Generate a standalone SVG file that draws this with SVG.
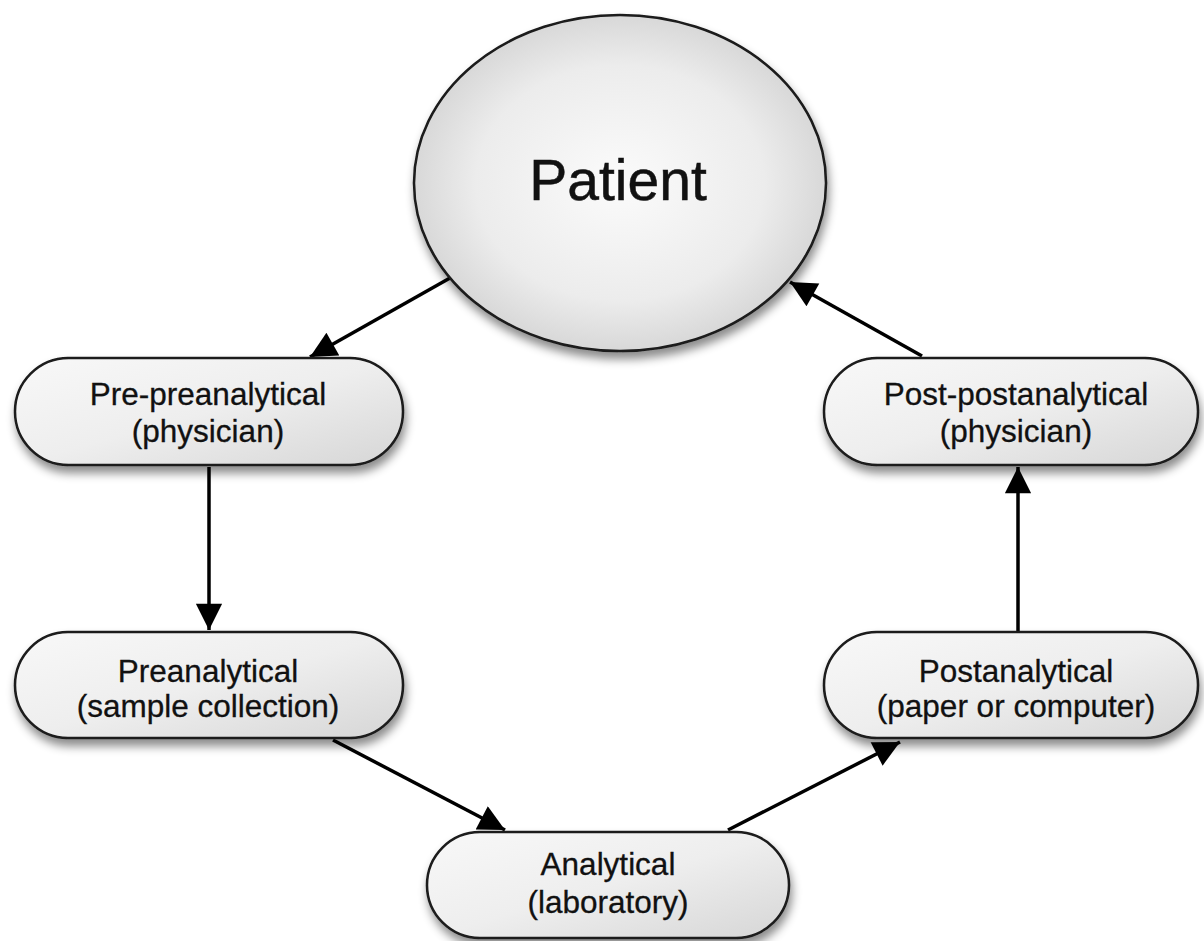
<svg xmlns="http://www.w3.org/2000/svg" width="1204" height="941" viewBox="0 0 1204 941">
<style>
.box{fill:url(#boxg);stroke:#1a1a1a;stroke-width:2.5;filter:url(#sh)}
.lbl{font-family:"Liberation Sans",Arial,sans-serif;font-size:31.5px;fill:#111;stroke:#111;stroke-width:0.3;text-anchor:middle}
.big{font-family:"Liberation Sans",Arial,sans-serif;font-size:57px;fill:#111;stroke:#111;stroke-width:0.5;text-anchor:middle}
.con{stroke:#000;stroke-width:3.5;fill:none;marker-end:url(#ah)}
</style>
<defs>
<radialGradient id="elg" cx="0.5" cy="0.5" r="0.5">
<stop offset="0" stop-color="#fbfbfb"/>
<stop offset="0.7" stop-color="#ececec"/>
<stop offset="1" stop-color="#d8d8d8"/>
</radialGradient>
<linearGradient id="boxg" x1="0" y1="0" x2="1" y2="1">
<stop offset="0" stop-color="#f8f8f8"/>
<stop offset="0.5" stop-color="#eeeeee"/>
<stop offset="1" stop-color="#d6d6d6"/>
</linearGradient>
<filter id="sh" x="-10%" y="-10%" width="125%" height="135%">
<feDropShadow dx="2" dy="7" stdDeviation="5" flood-color="#000" flood-opacity="0.45"/>
</filter>
<marker id="ah" viewBox="0 0 10 10" refX="10" refY="5" markerWidth="9.5" markerHeight="7.5" markerUnits="strokeWidth" orient="auto">
<path d="M0,0 L10,5 L0,10 Z" fill="#000"/>
</marker>
</defs>
<rect width="1204" height="941" fill="#fff"/>
<g id="connectors">
<line class="con" x1="450" y1="278" x2="310" y2="357"/>
<line class="con" x1="209" y1="467" x2="209" y2="630"/>
<line class="con" x1="333" y1="740" x2="505" y2="830"/>
<line class="con" x1="728" y1="830" x2="900" y2="742"/>
<line class="con" x1="1018" y1="632" x2="1018" y2="467"/>
<line class="con" x1="922" y1="356" x2="790" y2="282"/>
</g>
<g id="patient">
<ellipse cx="620" cy="183" rx="206" ry="168" fill="url(#elg)" stroke="#1a1a1a" stroke-width="2.5" filter="url(#sh)"/>
<text class="big" x="618" y="200">Patient</text>
</g>
<g id="prepre">
<rect class="box" x="15" y="358" width="388" height="107" rx="53.5"/>
<text class="lbl" x="208" y="405">Pre-preanalytical</text>
<text class="lbl" x="208" y="442">(physician)</text>
</g>
<g id="postpost">
<rect class="box" x="824" y="358" width="374" height="107" rx="53.5"/>
<text class="lbl" x="1016" y="405">Post-postanalytical</text>
<text class="lbl" x="1016" y="442">(physician)</text>
</g>
<g id="pre">
<rect class="box" x="15" y="632" width="388" height="106" rx="53"/>
<text class="lbl" x="208" y="682">Preanalytical</text>
<text class="lbl" x="208" y="717">(sample collection)</text>
</g>
<g id="post">
<rect class="box" x="824" y="632" width="374" height="106" rx="53"/>
<text class="lbl" x="1016" y="682">Postanalytical</text>
<text class="lbl" x="1016" y="717">(paper or computer)</text>
</g>
<g id="analytical">
<rect class="box" x="427" y="832" width="362" height="106" rx="53"/>
<text class="lbl" x="608" y="875">Analytical</text>
<text class="lbl" x="608" y="913">(laboratory)</text>
</g>
</svg>
